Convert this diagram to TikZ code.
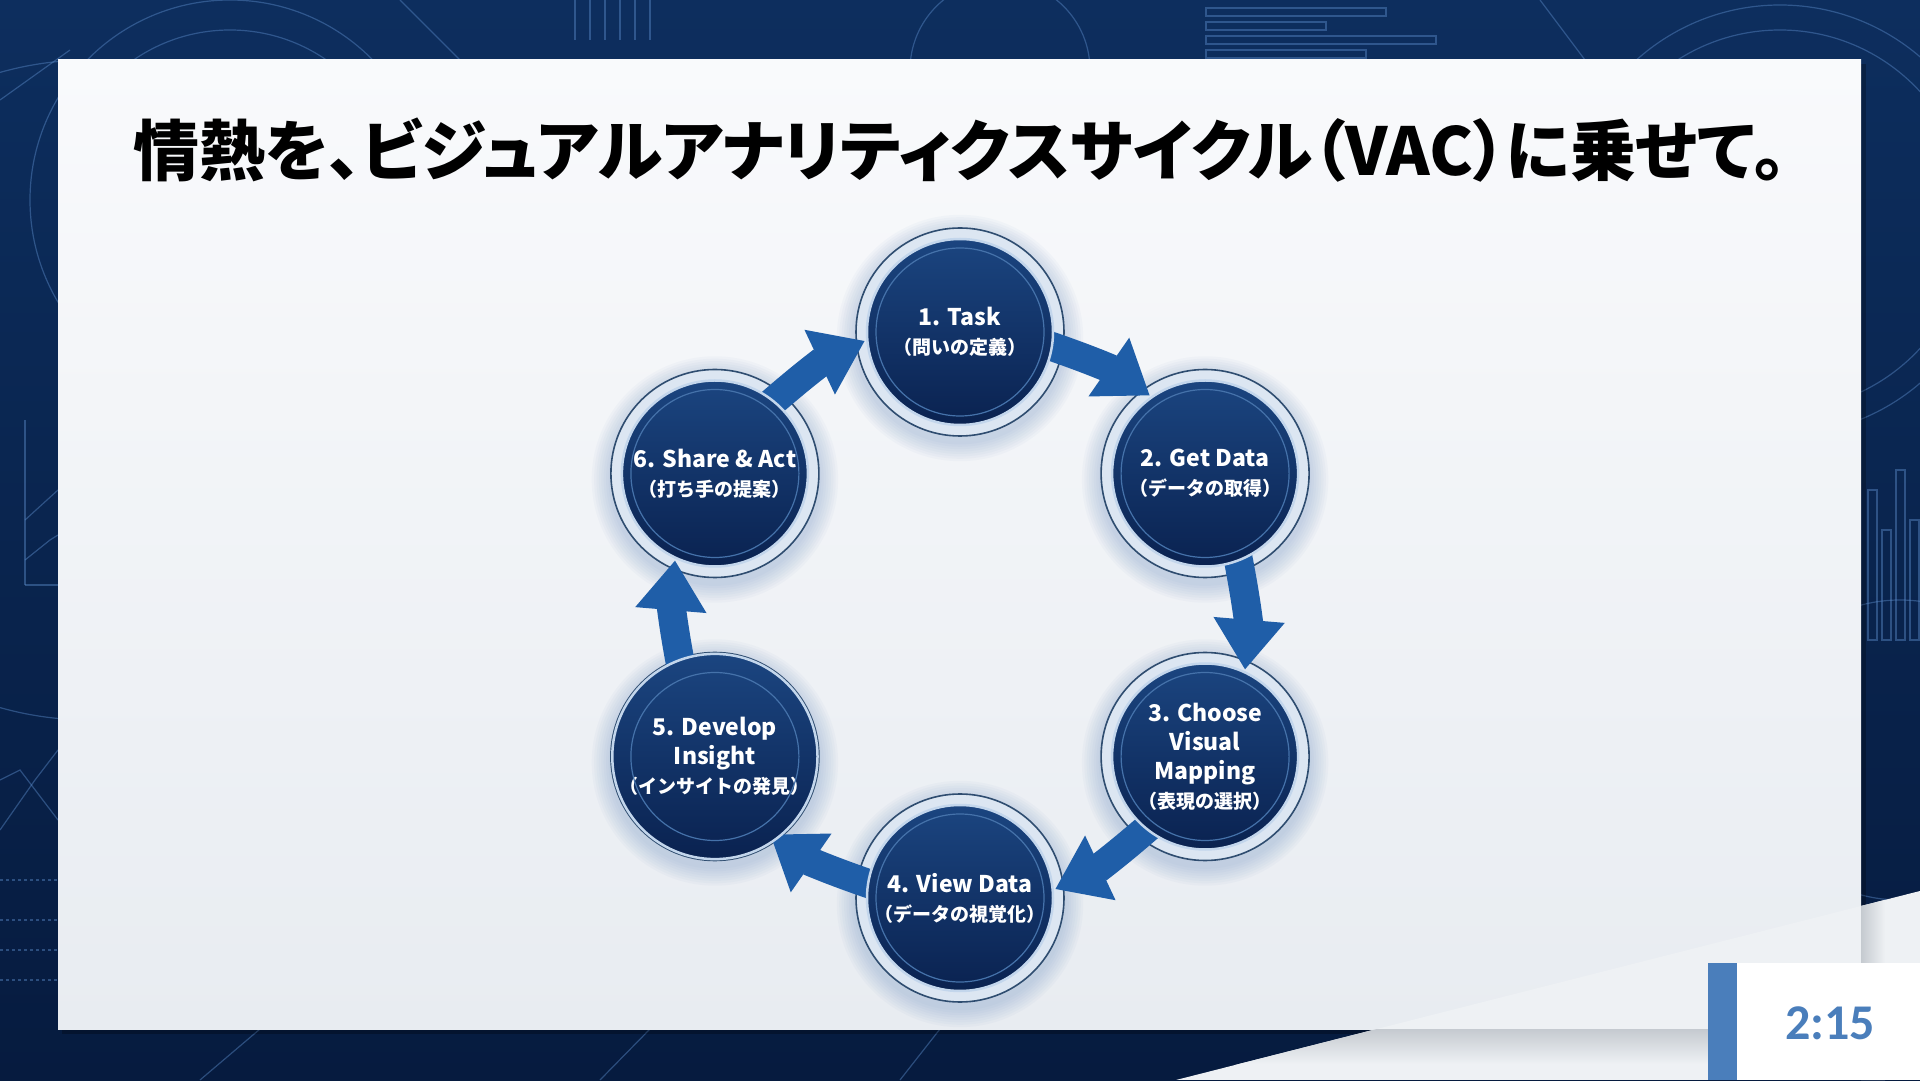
\documentclass[tikz,border=0pt]{standalone}
\usepackage{fontspec}
\setmainfont{Noto Sans CJK JP}
\newfontfamily\titlefont{Noto Sans CJK JP}[RawFeature=+palt]
\newfontfamily\timefont{Carlito}
\usetikzlibrary{arrows.meta}
\definecolor{bgtop}{HTML}{0D2E5E}
\definecolor{bgbot}{HTML}{061B3F}
\definecolor{decoc}{HTML}{5A8AC8}
\definecolor{paneltop}{HTML}{F9FAFC}
\definecolor{panelbot}{HTML}{E8ECF1}
\definecolor{ringfill}{HTML}{DCE6F2}
\definecolor{ringline}{HTML}{2F4D70}
\definecolor{disctop}{HTML}{1B4580}
\definecolor{discbot}{HTML}{0A2250}
\definecolor{discrim}{HTML}{C3D6EC}
\definecolor{innerline}{HTML}{4572AA}
\definecolor{arrowc}{HTML}{1F5EA8}
\definecolor{glowc}{HTML}{6A8FC0}
\definecolor{timec}{HTML}{4A7EBB}
\definecolor{polyc}{HTML}{EEF1F4}
\definecolor{shadowc}{HTML}{C5CAD0}
\begin{document}
\begin{tikzpicture}[x=1pt,y=1pt,
  ringnode/.style={circle, minimum size=208pt, inner sep=0pt, outer sep=0pt, fill=ringfill, draw=ringline, line width=1.6pt},
  discnode/.style={circle, minimum size=186pt, inner sep=0pt, outer sep=0pt, top color=disctop, bottom color=discbot, draw=discrim, line width=2.5pt, text=white, align=center, font=\bfseries\fontsize{23}{29}\selectfont},
  cyclearrow/.style={draw=arrowc, line width=29pt, -{Triangle[length=50pt,width=68pt]}, shorten <=-24pt, shorten >=-9pt},
  deco/.style={draw=decoc, line width=1.2pt, opacity=0.45}]
\useasboundingbox (0,0) rectangle (1920,1080);
\clip (0,0) rectangle (1920,1080);
% background
\shade[top color=bgtop, bottom color=bgbot] (0,0) rectangle (1920,1080);
\begin{scope}[deco]
  \draw (230,880) circle (170);
  \draw (230,880) circle (200);
  \draw (90,690) circle (330);
  \draw (1780,860) circle (190);
  \draw (1780,860) circle (215);
  \draw (1900,330) circle (150);
  \draw (1000,1010) circle (90);
  \draw (400,1080) -- (520,960);
  \draw (1540,1080) -- (1600,1000);
  \draw (0,980) -- (70,1030);
  \foreach \yy/\len in {1072/180,1058/120,1044/230,1030/160} \draw (1206,\yy) rectangle ++(\len,-8);
  \foreach \xx in {575,590,605,620,635,650} \draw (\xx,1080) -- (\xx,1040);
  \foreach \xx/\hh in {1868/150,1882/110,1896/170,1910/120} \draw (\xx,440) rectangle ++(9,\hh);
  \draw (25,495) -- (25,660) ;
  \draw (25,495) -- (58,495);
  \draw (25,520) -- (50,540) -- (58,545);
  \draw (25,560) -- (58,590);
  \draw (0,250) -- (35,300) -- (58,330);
  \draw (0,300) -- (20,310) -- (58,260);
  \foreach \yy in {100,130,160,200} \draw[dashed] (0,\yy) -- (58,\yy);
  \draw (200,0) -- (260,51);
  \draw (600,0) -- (650,51);
  \draw (900,0) -- (940,51);
\end{scope}
% panel
\fill[black, opacity=0.25] (62,46) rectangle (1866,1016);
\shade[top color=paneltop, bottom color=panelbot] (58,51) rectangle (1861,1020);
% light corner polygon with shadows
\begin{scope}
  \clip (1176,0) -- (1920,189) -- (1920,0) -- cycle;
  \fill[polyc] (1176,0) rectangle (1920,189);
  \shade[top color=shadowc, bottom color=polyc] (1100,51) rectangle (1861,16);
  \shade[left color=shadowc, right color=polyc] (1861,0) rectangle (1885,189);
\end{scope}
% title
\node[font=\titlefont\bfseries\fontsize{66}{72}\selectfont, text=black] (title) at (960,930) {情熱を、ビジュアルアナリティクスサイクル（VAC）に乗せて。};
% positions
\coordinate (p1) at (960,748);
\coordinate (p2) at (1205.1,606.5);
\coordinate (p3) at (1205.1,323.5);
\coordinate (p4) at (960,182);
\coordinate (p5) at (714.9,323.5);
\coordinate (p6) at (714.9,606.5);
% glows
\foreach \p in {p1,p2,p3,p4,p5,p6}
  \foreach \i in {1,...,8}
    \fill[glowc, opacity=0.045] ([yshift=-6pt]\p) circle (104+2.4*\i);
% rings
\foreach \k in {1,...,6} \node[ringnode] (r\k) at (p\k) {};
% arrows
\draw[cyclearrow] (r1.-10) to[bend left=8] (r2.127);
\draw[cyclearrow] (r2.-70) to[bend left=8] (r3.67);
\draw[cyclearrow] (r3.-130) to[bend left=8] (r4.7);
\draw[cyclearrow] (r4.170) to[bend left=8] (r5.-53);
\draw[cyclearrow] (r5.110) to[bend left=8] (r6.-113);
\draw[cyclearrow] (r6.50) to[bend left=8] (r1.187);
% discs
\node[discnode] (n1) at (p1) {1. Task\\{\fontsize{19}{29}\selectfont （問いの定義）}};
\node[discnode] (n2) at (p2) {2. Get Data\\{\fontsize{19}{29}\selectfont （データの取得）}};
\node[discnode] (n3) at (p3) {3. Choose\\Visual\\Mapping\\{\fontsize{19}{29}\selectfont （表現の選択）}};
\node[discnode] (n4) at (p4) {4. View Data\\{\fontsize{19}{29}\selectfont （データの視覚化）}};
\node[discnode] (n5) at (p5) {5. Develop\\Insight\\{\fontsize{19}{29}\selectfont （インサイトの発見）}};
\node[discnode] (n6) at (p6) {6. Share \& Act\\{\fontsize{19}{29}\selectfont （打ち手の提案）}};
\foreach \k in {1,...,6} \draw[innerline, line width=1.2pt] (n\k.center) circle (84);
% time box
\fill[timec] (1708,0) rectangle (1737,117);
\fill[white] (1737,0) rectangle (1920,117);
\node[font=\timefont\bfseries\fontsize{50}{50}\selectfont, text=timec] (time) at (1830,57) {2:15};
\end{tikzpicture}
\end{document}
